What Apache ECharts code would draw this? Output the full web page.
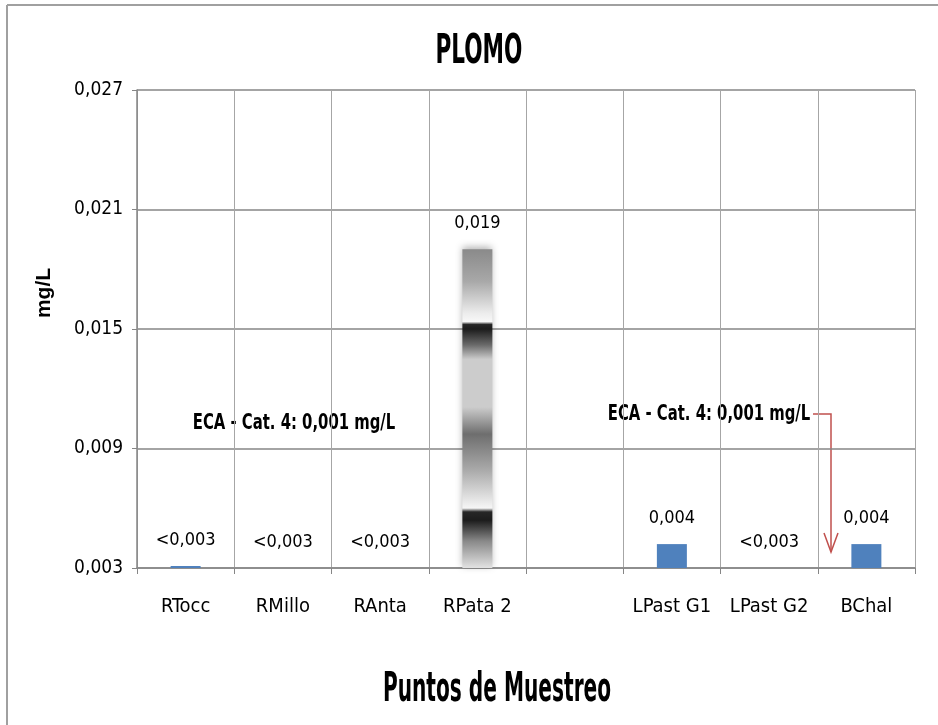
<!DOCTYPE html>
<html><head><meta charset="utf-8">
<script src="https://cdn.jsdelivr.net/npm/echarts@6/dist/echarts.min.js"></script>
<style>html,body{margin:0;padding:0;background:#fff}#c{width:938px;height:725px}</style>
</head><body><div id="c"></div>
<script>
// ---- data ----
const categories = ['RTocc', 'RMillo', 'RAnta', 'RPata 2', '', 'LPast G1', 'LPast G2', 'BChal'];
const values = [0.0031, 0.003, 0.003, 0.019, null, 0.0042, 0.003, 0.0042];
const valueLabels = ['<0,003', '<0,003', '<0,003', '0,019', '', '0,004', '<0,003', '0,004'];
const yMin = 0.003, yMax = 0.027, yInterval = 0.006;
const chartTitle = 'PLOMO';
const yName = 'mg/L';
const xName = 'Puntos de Muestreo';
const ecaText = 'ECA - Cat. 4: 0,001 mg/L';
const gradientCategory = 'RPata 2';

// ---- styles ----
const NARROW = "'Liberation Sans Narrow', 'DejaVu Sans Condensed', 'Arial Narrow', sans-serif";
const gray = '#868686';
const patternGradient = new echarts.graphic.LinearGradient(0, 0, 0, 1, [
  {offset: 0.00, color: '#8a8a8a'},
  {offset: 0.10, color: '#a8a8a8'},
  {offset: 0.20, color: '#ececec'},
  {offset: 0.227, color: '#f8f8f8'},
  {offset: 0.236, color: '#262626'},
  {offset: 0.25, color: '#1c1c1c'},
  {offset: 0.30, color: '#6a6a6a'},
  {offset: 0.345, color: '#cccccc'},
  {offset: 0.495, color: '#cccccc'},
  {offset: 0.58, color: '#6e6e6e'},
  {offset: 0.695, color: '#ababab'},
  {offset: 0.812, color: '#f6f6f6'},
  {offset: 0.824, color: '#262626'},
  {offset: 0.85, color: '#1c1c1c'},
  {offset: 0.915, color: '#888888'},
  {offset: 1.00, color: '#e2e2e2'}
]);

const seriesData = values.map((v, i) => {
  if (categories[i] === gradientCategory) {
    return {value: v, itemStyle: {color: patternGradient, shadowBlur: 7, shadowOffsetY: -2, shadowColor: 'rgba(0,0,0,0.3)'}};
  }
  return {value: v};
});

const chart = echarts.init(document.getElementById('c'), null, {renderer: 'canvas'});
chart.setOption({
  backgroundColor: '#fff',
  animation: false,
  grid: {left: 137, right: 23, top: 90, bottom: 157, containLabel: false},
  xAxis: {
    type: 'category', data: categories,
    axisLine: {show: true, lineStyle: {color: gray, width: 1.5}},
    axisTick: {show: true, length: 6, lineStyle: {color: gray, width: 1}},
    axisLabel: {fontFamily: NARROW, fontSize: 20, color: '#000', margin: 29, interval: 0},
    splitLine: {show: true, lineStyle: {color: '#a6a6a6', width: 1}}
  },
  yAxis: {
    type: 'value', min: yMin, max: yMax, interval: yInterval,
    name: yName, nameLocation: 'middle', nameGap: 82,
    nameTextStyle: {fontFamily: "'Liberation Sans', Arial, sans-serif", fontWeight: 'bold', fontSize: 21, color: '#000', padding: [0, 0, 0, 72]},
    axisLine: {show: true, lineStyle: {color: gray, width: 1.5}},
    axisTick: {show: true, length: 5, lineStyle: {color: gray, width: 1}},
    axisLabel: {fontFamily: NARROW, fontSize: 19, color: '#000', margin: 14,
      formatter: v => v.toFixed(3).replace('.', ',')},
    splitLine: {show: true, lineStyle: {color: gray, width: 1.5}}
  },
  series: [{
    type: 'bar', data: seriesData, barWidth: 30,
    itemStyle: {color: '#4f81bd'},
    label: {
      show: true, position: 'top', distance: 17,
      fontFamily: NARROW, fontSize: 18, color: '#000',
      formatter: p => valueLabels[p.dataIndex]
    }
  }],
  graphic: [
    {type: 'line', shape: {x1: 7, y1: 5, x2: 938, y2: 5}, style: {stroke: '#a0a0a0', lineWidth: 2}, silent: true},
    {type: 'line', shape: {x1: 7, y1: 5, x2: 7, y2: 725}, style: {stroke: '#a0a0a0', lineWidth: 2}, silent: true},
    {type: 'text', x: 479, y: 53, scaleX: 0.6, style: {text: chartTitle, font: "bold 40px " + NARROW, fill: '#000', align: 'center', verticalAlign: 'middle'}},
    {type: 'text', x: 497, y: 691, scaleX: 0.56, style: {text: xName, font: "bold 40px " + NARROW, fill: '#000', align: 'center', verticalAlign: 'middle'}},
    {type: 'text', x: 294, y: 423, scaleX: 0.75, style: {text: ecaText, font: "bold 22px " + NARROW, fill: '#000', align: 'center', verticalAlign: 'middle'}},
    {type: 'text', x: 709, y: 414, scaleX: 0.75, style: {text: ecaText, font: "bold 22px " + NARROW, fill: '#000', align: 'center', verticalAlign: 'middle'}},
    {type: 'polyline', shape: {points: [[813, 414], [831, 414], [831, 552]]}, style: {stroke: '#c0504d', lineWidth: 1.5, fill: 'none'}},
    {type: 'polyline', shape: {points: [[824, 533], [831, 552], [838, 533]]}, style: {stroke: '#c0504d', lineWidth: 1.5, fill: 'none'}}
  ]
});
</script></body></html>
